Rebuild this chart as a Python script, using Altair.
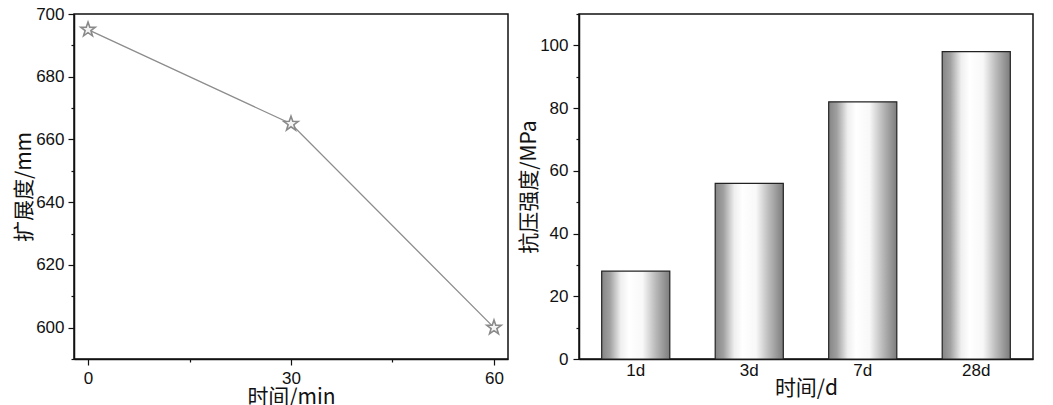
import altair as alt
import pandas as pd

# Left panel: spread vs time
time_min = [0, 30, 60]
spread_mm = [695, 665, 600]

# Right panel: compressive strength vs age
ages = ["1d", "3d", "7d", "28d"]
strength_mpa = [28, 56, 82, 98]

df_line = pd.DataFrame({"t": time_min, "v": spread_mm})
df_bar = pd.DataFrame({"age": ages, "s": strength_mpa})

LBL = "Liberation Sans"
TTL = "Noto Sans CJK SC"

star = "M0,-1 L0.235,-0.324 L0.951,-0.309 L0.380,0.124 L0.588,0.809 L0,0.4 L-0.588,0.809 L-0.380,0.124 L-0.951,-0.309 L-0.235,-0.324 Z"

axis_common = dict(
    labelFont=LBL, labelFontSize=17, labelColor="#111",
    titleFont=TTL, titleFontSize=21, titleColor="#111", titleFontWeight="normal",
    domainColor="#111", domainWidth=1.5, tickColor="#111", tickWidth=1.2,
    grid=False,
)

yl = alt.Y("v:Q", scale=alt.Scale(domain=[590, 700], nice=False, zero=False),
           axis=alt.Axis(title="扩展度/mm", values=list(range(590, 701, 10)),
                         labelExpr="datum.value % 20 == 0 ? datum.label : ''",
                         tickSize={"condition": {"test": "datum.value % 20 == 0", "value": 6}, "value": 3},
                         titlePadding=1, labelPadding=4, **axis_common))
xl = alt.X("t:Q", scale=alt.Scale(domain=[-2.07, 62.07], nice=False, zero=False),
           axis=alt.Axis(title="时间/min", values=[0, 15, 30, 45, 60],
                         labelExpr="datum.value % 30 == 0 ? datum.label : ''",
                         tickSize={"condition": {"test": "datum.value % 30 == 0", "value": 6}, "value": 3},
                         titlePadding=0, labelPadding=5, **axis_common))

line = alt.Chart(df_line).mark_line(color="#8c8c8c", strokeWidth=1.3).encode(x=xl, y=yl)
pts = alt.Chart(df_line).mark_point(shape=star, size=230, filled=False, stroke="#8a8a8a",
                                    strokeWidth=1.6, fill="#f4f4f4", fillOpacity=1, opacity=1).encode(x=xl, y=yl)
left = alt.layer(line, pts).properties(width=434, height=345)

grad = alt.Gradient(gradient="linear", x1=0, x2=1, y1=0, y2=0, stops=[
    alt.GradientStop(offset=0.0, color="#858585"),
    alt.GradientStop(offset=0.12, color="#a0a0a0"),
    alt.GradientStop(offset=0.28, color="#efefef"),
    alt.GradientStop(offset=0.4, color="#ffffff"),
    alt.GradientStop(offset=0.6, color="#f8f8f8"),
    alt.GradientStop(offset=0.78, color="#bdbdbd"),
    alt.GradientStop(offset=1.0, color="#7c7c7c"),
])

bars = alt.Chart(df_bar).mark_bar(color=grad, stroke="#222", strokeWidth=1.2).encode(
    x=alt.X("age:N", sort=ages, scale=alt.Scale(paddingInner=0.4, paddingOuter=0.2),
            axis=alt.Axis(title="时间/d", labelAngle=0, ticks=False, labelPadding=3,
                          titlePadding=-1, **axis_common)),
    y=alt.Y("s:Q", scale=alt.Scale(domain=[0, 110], nice=False),
            axis=alt.Axis(title="抗压强度/MPa", values=list(range(0, 111, 10)),
                          labelExpr="datum.value % 20 == 0 ? datum.label : ''",
                          tickSize={"condition": {"test": "datum.value % 20 == 0", "value": 6}, "value": 3},
                          titlePadding=0, labelPadding=5, **axis_common)),
).properties(width=454, height=345)

chart = alt.hconcat(left, bars, spacing=8).configure_view(
    stroke="#111", strokeWidth=1.5
).properties(padding={"left": 4, "top": -4, "right": 5, "bottom": 0}, background="white")

chart.save("out.html", embed_options={"renderer": "svg", "actions": False})
